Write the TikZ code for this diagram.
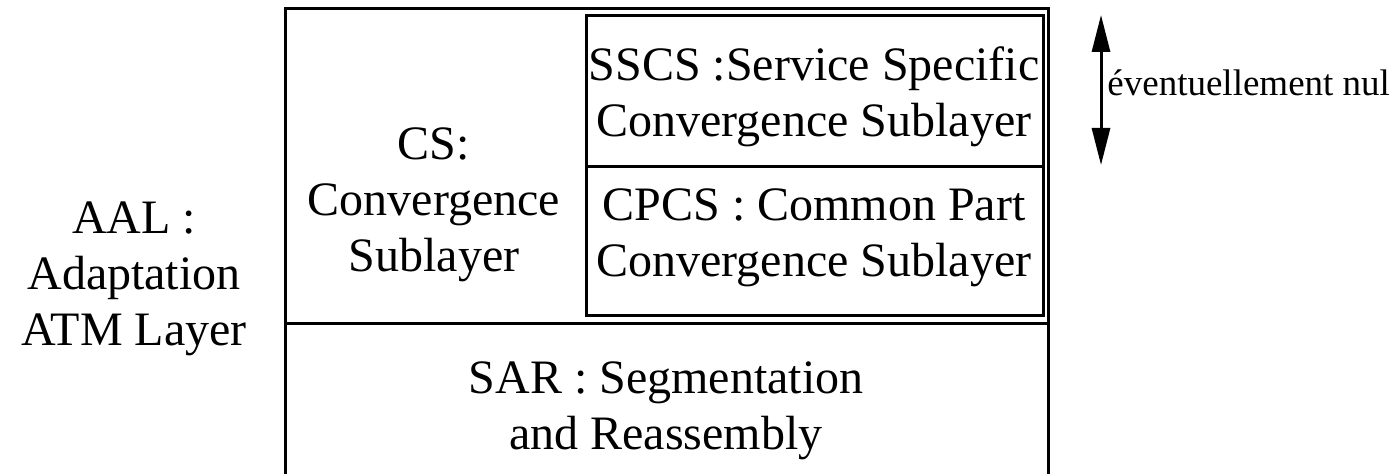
\documentclass[tikz,border=0pt]{standalone}
\usepackage{fontspec}
\setmainfont{Liberation Serif}
\usetikzlibrary{arrows.meta}
\begin{document}
\begin{tikzpicture}[x=0.5pt,y=-0.5pt,
  frame/.style={line width=1.5pt},
  label/.style={font=\fontsize{24}{28}\selectfont, align=center, inner sep=0pt},
  note/.style={font=\fontsize{18.5}{22}\selectfont, inner sep=0pt},
  span/.style={line width=1.5pt,
    {Triangle[length=18.5pt,width=9pt]}-{Triangle[length=18.5pt,width=9pt]}}
]
\useasboundingbox (0,0) rectangle (1397,474);

% AAL frame: open at the bottom, split into CS and SAR
\draw[frame] (285,490) -- (285,9) -- (1048,9) -- (1048,490);
\draw[frame] (285,324) -- (1048,324);

% CS sublayers: SSCS on top of CPCS
\draw[frame] (586,16) rectangle (1043,316);
\draw[frame] (586,167) -- (1043,167);

% Labels
\node[label] (aal)  at (134,278) {\strut AAL :\\\strut Adaptation\\\strut ATM Layer};
\node[label] (cs)   at (434,204) {\strut CS:\\\strut Convergence\\\strut Sublayer};
\node[label] (sscs) at (814,97)  {\strut SSCS :Service Specific\\\strut Convergence Sublayer};
\node[label] (cpcs) at (814,237) {\strut CPCS : Common Part\\\strut Convergence Sublayer};
\node[label] (sar)  at (666,410) {\strut SAR : Segmentation\\\strut and Reassembly};

% Optional-size marker for the SSCS
\coordinate (top) at (1101,15);
\coordinate (bot) at (1101,165);
\draw[span] (bot) -- (top);
\node[note, anchor=base west] (nul) at (1107,96) {éventuellement nul};
\end{tikzpicture}
\end{document}
